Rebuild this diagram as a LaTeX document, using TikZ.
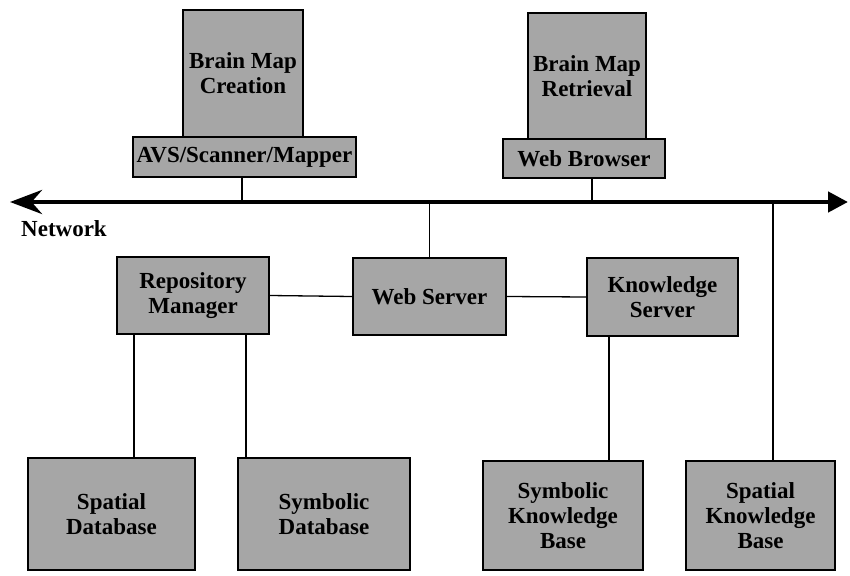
\documentclass[tikz,border=0pt]{standalone}
\usepackage{fontspec}
\setmainfont{Liberation Serif}
\usetikzlibrary{arrows.meta}
\begin{document}
\begin{tikzpicture}[x=1pt,y=-1pt,
  box/.style={draw=black, line width=1.6pt, fill=black!35, align=center, inner sep=0pt,
    font=\bfseries\fontsize{23}{25}\selectfont},
  wire/.style={line width=1.3pt},
  netline/.style={line width=4.5pt}]
\useasboundingbox (0,0) rectangle (850,575);

% top stations
\node[box, minimum width=120pt, minimum height=127pt] (bmc) at (243,73.5) {Brain Map\\Creation};
\node[box, minimum width=223pt, minimum height=40pt] (avs) at (244.5,157) {AVS/Scanner/Mapper};
\node[box, minimum width=118pt, minimum height=126pt] (bmr) at (587,76) {Brain Map\\Retrieval};
\node[box, minimum width=162pt, minimum height=39pt] (wb) at (584,158.5) {Web Browser};

% network
\coordinate (netL) at (10,202);
\coordinate (netR) at (848,202);
\draw[netline, {Stealth[length=32pt,width=24pt]}-{Triangle[length=20pt,width=20pt]}] (netL) -- (netR);
\node[font=\bfseries\fontsize{23}{25}\selectfont, anchor=west, inner sep=0pt] (netlabel) at (21,229) {Network};

% servers
\node[box, minimum width=152pt, minimum height=77pt] (rm) at (193,295.5) {Repository\\Manager};
\node[box, minimum width=153pt, minimum height=77pt] (ws) at (429.5,296.5) {Web Server};
\node[box, minimum width=151pt, minimum height=78pt] (ks) at (662.5,297) {Knowledge\\Server};

% bases
\node[box, minimum width=167pt, minimum height=112pt] (sd) at (111.5,514) {Spatial\\Database};
\node[box, minimum width=172pt, minimum height=112pt] (symd) at (324,514) {Symbolic\\Database};
\node[box, minimum width=160pt, minimum height=109pt] (skb) at (563,515.5) {Symbolic\\Knowledge\\Base};
\node[box, minimum width=149pt, minimum height=109pt] (spkb) at (760.5,515.5) {Spatial\\Knowledge\\Base};

% connectors
\draw[wire] ([xshift=-2.5pt]avs.south) -- ([xshift=-2.5pt]avs.south |- netL);
\draw[wire] ([xshift=8pt]wb.south) -- ([xshift=8pt]wb.south |- netL);
\draw[wire] (ws.north |- netL) -- (ws.north);
\draw[wire] ([xshift=12.5pt]spkb.north |- netL) -- ([xshift=12.5pt]spkb.north);
\draw[wire] (rm.east) -- (ws.west);
\draw[wire] (ws.east) -- (ks.west);
\draw[wire] ([xshift=-59pt]rm.south) -- ([xshift=-59pt]rm.south |- sd.north);
\draw[wire] ([xshift=53pt]rm.south) -- ([xshift=53pt]rm.south |- symd.north);
\draw[wire] ([xshift=-53.5pt]ks.south) -- ([xshift=-53.5pt]ks.south |- skb.north);
\end{tikzpicture}
\end{document}
